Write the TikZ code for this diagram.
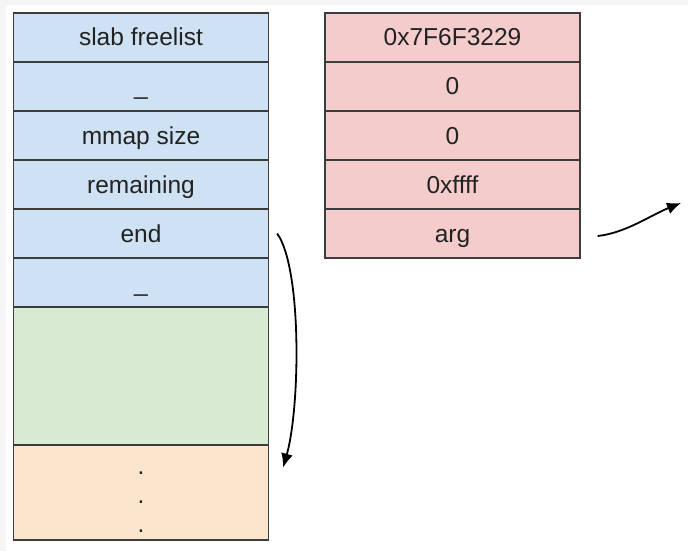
\documentclass[tikz,border=0pt]{standalone}
\usepackage{fontspec}
\setmainfont{Liberation Sans}
\usetikzlibrary{arrows.meta}

\definecolor{cellblue}{HTML}{CFE2F3}
\definecolor{cellred}{HTML}{F4CCCC}
\definecolor{cellgreen}{HTML}{D9EAD3}
\definecolor{cellorange}{HTML}{FCE5CD}
\definecolor{cellline}{HTML}{3C3C3C}
\definecolor{celltext}{HTML}{222222}
\definecolor{edgegray}{HTML}{F5F5F5}

\begin{document}
\begin{tikzpicture}[x=1pt,y=-1pt,
  cell/.style={draw=cellline, line width=1.3pt, rectangle, inner sep=0pt,
    minimum width=255pt, minimum height=49pt, text=celltext,
    font=\fontsize{24.5}{29}\selectfont, text height=17pt, text depth=0pt},
  pointer/.style={line width=1.8pt, -{Latex[length=14pt,width=12pt]}}]

  % page and its faint top/left edge
  \useasboundingbox (0,0) rectangle (688,551);
  \fill[white] (0,0) rectangle (688,551);
  \fill[edgegray] (0,0) rectangle (688,5);
  \fill[edgegray] (0,0) rectangle (6,551);

  % slab header and body
  \node[cell, fill=cellblue] (freelist) at (141,37.5) {slab freelist};
  \node[cell, fill=cellblue] (pad1)     at (141,86.5) {\_};
  \node[cell, fill=cellblue] (mmapsize) at (141,135.5) {mmap size};
  \node[cell, fill=cellblue] (remain)   at (141,184.5) {remaining};
  \node[cell, fill=cellblue] (endp)     at (141,233.5) {end};
  \node[cell, fill=cellblue] (pad2)     at (141,282.5) {\_};
  \node[cell, fill=cellgreen, minimum height=138pt] (used) at (141,376) {};
  \node[cell, fill=cellorange, minimum height=95pt] (free) at (141,492.5) {};
  \node[text=celltext, font=\fontsize{24.5}{29}\selectfont, align=center,
        anchor=center] (dots) at (141,502) {.\\.\\.};

  % forged object
  \node[cell, fill=cellred] (addr)  at (452.5,37.5) {0x7F6F3229};
  \node[cell, fill=cellred] (zero1) at (452.5,86.5) {0};
  \node[cell, fill=cellred] (zero2) at (452.5,135.5) {0};
  \node[cell, fill=cellred] (mask)  at (452.5,184.5) {0xffff};
  \node[cell, fill=cellred] (arg)   at (452.5,233.5) {arg};

  % pointers
  \coordinate (endtip) at ([xshift=14pt,yshift=25pt]free.east);
  \draw[pointer] ([xshift=8pt]endp.east) .. controls +(25,35) and +(17,-60) .. (endtip);
  \coordinate (argtip) at (681,203);
  \draw[pointer] ([xshift=17pt,yshift=-2.5pt]arg.east) .. controls +(28,-3) and +(-30,12) .. (argtip);
\end{tikzpicture}
\end{document}
